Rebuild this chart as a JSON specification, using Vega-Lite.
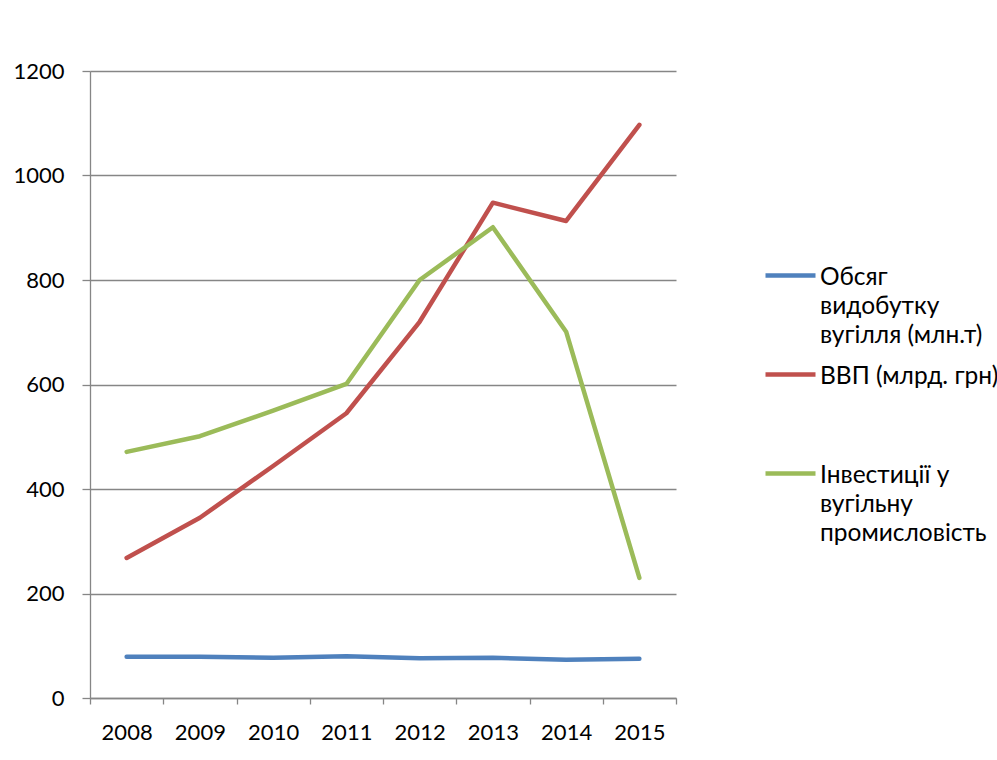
{
  "$schema": "https://vega.github.io/schema/vega-lite/v6.json",
  "autosize": {"type": "none"},
  "padding": {"left": 90, "top": 71, "right": 321, "bottom": 62},
  "width": 586,
  "height": 627,
  "background": "white",
  "config": {
    "font": "Lato",
    "view": {"stroke": null},
    "axis": {"labelFont": "Lato", "labelFontSize": 22, "labelColor": "#000000", "domainColor": "#868686", "tickColor": "#868686", "gridColor": "#868686", "domainWidth": 1.3, "tickWidth": 1.3, "gridWidth": 1.3}
  },
  "data": {
    "values": [
      {"year": "2008", "series": "Обсяг видобутку вугілля (млн.т)", "value": 79},
      {"year": "2009", "series": "Обсяг видобутку вугілля (млн.т)", "value": 79},
      {"year": "2010", "series": "Обсяг видобутку вугілля (млн.т)", "value": 77},
      {"year": "2011", "series": "Обсяг видобутку вугілля (млн.т)", "value": 80},
      {"year": "2012", "series": "Обсяг видобутку вугілля (млн.т)", "value": 76},
      {"year": "2013", "series": "Обсяг видобутку вугілля (млн.т)", "value": 77},
      {"year": "2014", "series": "Обсяг видобутку вугілля (млн.т)", "value": 73},
      {"year": "2015", "series": "Обсяг видобутку вугілля (млн.т)", "value": 75},
      {"year": "2008", "series": "ВВП (млрд. грн)", "value": 268},
      {"year": "2009", "series": "ВВП (млрд. грн)", "value": 345},
      {"year": "2010", "series": "ВВП (млрд. грн)", "value": 444},
      {"year": "2011", "series": "ВВП (млрд. грн)", "value": 545},
      {"year": "2012", "series": "ВВП (млрд. грн)", "value": 720},
      {"year": "2013", "series": "ВВП (млрд. грн)", "value": 948},
      {"year": "2014", "series": "ВВП (млрд. грн)", "value": 913},
      {"year": "2015", "series": "ВВП (млрд. грн)", "value": 1097},
      {"year": "2008", "series": "Інвестиції у вугільну промисловість", "value": 471},
      {"year": "2009", "series": "Інвестиції у вугільну промисловість", "value": 501},
      {"year": "2010", "series": "Інвестиції у вугільну промисловість", "value": 550},
      {"year": "2011", "series": "Інвестиції у вугільну промисловість", "value": 601},
      {"year": "2012", "series": "Інвестиції у вугільну промисловість", "value": 800},
      {"year": "2013", "series": "Інвестиції у вугільну промисловість", "value": 901},
      {"year": "2014", "series": "Інвестиції у вугільну промисловість", "value": 701},
      {"year": "2015", "series": "Інвестиції у вугільну промисловість", "value": 230}
    ]
  },
  "mark": {"type": "line", "strokeWidth": 4.5, "strokeCap": "round", "strokeJoin": "round"},
  "encoding": {
    "x": {
      "field": "year", "type": "ordinal", "bandPosition": 0.5,
      "scale": {"type": "band", "paddingInner": 0, "paddingOuter": 0},
      "axis": {"title": null, "labelAngle": 0, "tickBand": "extent", "tickSize": 6, "labelPadding": 18, "grid": false}
    },
    "y": {
      "field": "value", "type": "quantitative",
      "scale": {"domain": [0, 1200], "nice": false},
      "axis": {"title": null, "format": "d", "values": [0, 200, 400, 600, 800, 1000, 1200], "tickSize": 8, "labelPadding": 18, "grid": true}
    },
    "color": {
      "field": "series", "type": "nominal",
      "scale": {
        "domain": ["Обсяг видобутку вугілля (млн.т)", "ВВП (млрд. грн)", "Інвестиції у вугільну промисловість"],
        "range": ["#4F81BD", "#C0504D", "#9BBB59"]
      },
      "legend": {
        "title": null,
        "orient": "none",
        "legendX": 673,
        "legendY": 177,
        "padding": 0,
        "symbolType": "stroke",
        "symbolSize": 2500,
        "symbolStrokeWidth": 4.5,
        "labelFont": "Lato",
        "labelFontSize": 24.5,
        "labelColor": "#000000",
        "labelLimit": 400,
        "labelOffset": 2,
        "labelBaseline": "top",
        "rowPadding": 0,
        "labelExpr": "datum.label === 'Обсяг видобутку вугілля (млн.т)' ? ['Обсяг', 'видобутку', 'вугілля (млн.т)'] : datum.label === 'ВВП (млрд. грн)' ? ['ВВП (млрд. грн)', '', ''] : ['Інвестиції у', 'вугільну', 'промисловість']",
        "encode": {"labels": {"update": {"lineHeight": {"value": 29}, "dy": {"value": -10}}}}
      }
    }
  }
}
